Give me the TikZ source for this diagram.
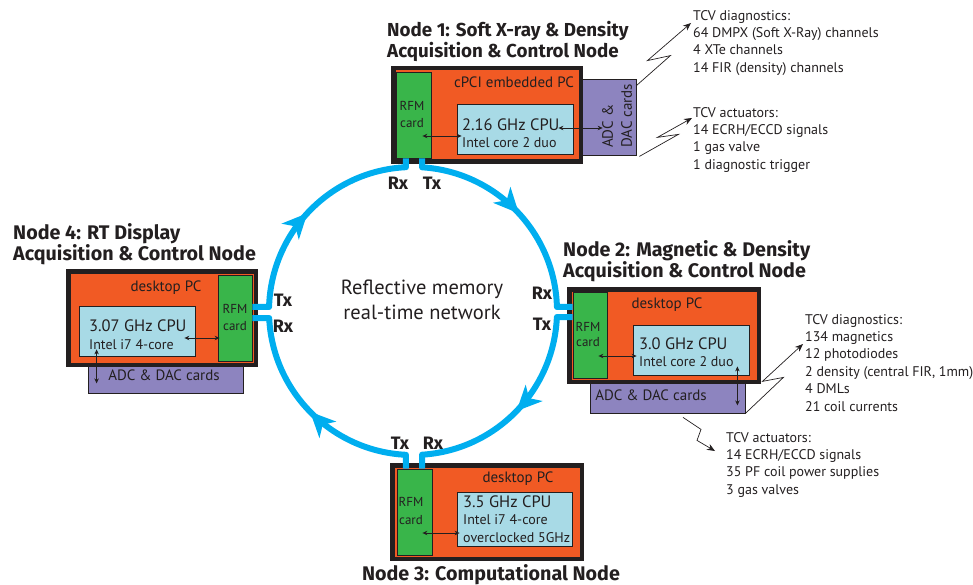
\documentclass[tikz,border=0pt]{standalone}
\usepackage{fontspec}
\setmainfont{PT Sans}
\newfontfamily\headfont{Fira Sans}
\usepackage{xcolor}
\usetikzlibrary{arrows.meta,calc,decorations.markings}

\definecolor{inkblack}{HTML}{231F20}
\definecolor{pcorange}{HTML}{F15A24}
\definecolor{rfmgreen}{HTML}{39B54A}
\definecolor{cpublue}{HTML}{A8DAE6}
\definecolor{adcpurple}{HTML}{8D84BF}
\definecolor{ringcyan}{HTML}{00AEEF}

\begin{document}
\begin{tikzpicture}[x=1pt, y=-1pt,
    pcbox/.style={rectangle, draw=inkblack, line width=4.5pt, fill=pcorange, inner sep=0pt},
    rfmbox/.style={rectangle, draw=inkblack, line width=0.8pt, fill=rfmgreen, inner sep=0pt},
    cpubox/.style={rectangle, draw=inkblack, line width=0.8pt, fill=cpublue, inner sep=0pt},
    adcbox/.style={rectangle, draw=inkblack, line width=0.8pt, fill=adcpurple, inner sep=0pt},
    boxtext/.style={inner sep=0pt, text=inkblack, font=\fontsize{15}{19}\selectfont},
    speedtext/.style={inner sep=0pt, anchor=base west, text=inkblack, font=\fontsize{16.5}{19}\selectfont},
    modeltext/.style={inner sep=0pt, anchor=base west, text=inkblack, font=\fontsize{14}{18}\selectfont},
    rfmtext/.style={inner sep=0pt, anchor=base, text=inkblack, font=\fontsize{13}{16.5}\selectfont, align=center},
    nodetitle/.style={inner sep=0pt, anchor=north west, align=left, text=inkblack, font=\fontsize{19.7}{21.5}\selectfont\headfont\bfseries},
    portlbl/.style={inner sep=0pt, text=inkblack, font=\fontsize{18}{20}\selectfont\headfont\bfseries},
    tcvlist/.style={inner sep=0pt, anchor=north west, align=left, text=inkblack, font=\fontsize{14}{17.4}\selectfont},
    link/.style={{Stealth[length=5pt,width=4.5pt]}-{Stealth[length=5pt,width=4.5pt]}, line width=0.7pt, draw=inkblack},
    bolt/.style={-{Stealth[length=8pt,width=6.5pt]}, line width=0.7pt, draw=inkblack},
    ringline/.style={draw=ringcyan, line width=6pt, line join=round,
        decoration={markings, mark=at position 0.5 with {\arrow{Stealth[length=25pt,width=23pt,inset=7pt]}}},
        postaction={decorate}}
]
\useasboundingbox (0,0) rectangle (973,585);

% I/O cards sit behind the PC frames
\node [adcbox, minimum width=58pt, minimum height=76pt] (adc1) at (607,117) {};
\node [adcbox, minimum width=155pt, minimum height=35pt] (adc2) at (667.5,395.5) {};
\node [adcbox, minimum width=155pt, minimum height=33pt] (adc4) at (165.5,376.5) {};

% PC frames
\node [pcbox, minimum width=187.5pt, minimum height=93.5pt] (pc1) at (487,115) {};
\node [pcbox, minimum width=189.5pt, minimum height=92.5pt] (pc2) at (664,335.5) {};
\node [pcbox, minimum width=189.5pt, minimum height=93.5pt] (pc3) at (487,512) {};
\node [pcbox, minimum width=187.5pt, minimum height=93.5pt] (pc4) at (162,318) {};

% RFM cards and CPUs
\node [rfmbox, minimum width=35pt, minimum height=86pt] (rfm1) at (413.5,115) {};
\node [rfmbox, minimum width=34pt, minimum height=86pt] (rfm2) at (590,335) {};
\node [rfmbox, minimum width=35pt, minimum height=86pt] (rfm3) at (414.5,512) {};
\node [rfmbox, minimum width=34pt, minimum height=86pt] (rfm4) at (235,318) {};
\node [cpubox, minimum width=116pt, minimum height=50pt] (cpu1) at (515,129) {};
\node [cpubox, minimum width=116pt, minimum height=50pt] (cpu2) at (691,350) {};
\node [cpubox, minimum width=115pt, minimum height=54pt] (cpu3) at (514.5,519) {};
\node [cpubox, minimum width=116pt, minimum height=50pt] (cpu4) at (137,331) {};

% texts inside the boxes
\node [boxtext, anchor=base] (pc1lbl) at (514,88) {cPCI embedded PC};
\node [boxtext, anchor=base] (pc2lbl) at (667,308) {desktop PC};
\node [boxtext, anchor=base] (pc3lbl) at (518,482) {desktop PC};
\node [boxtext, anchor=base] (pc4lbl) at (166,291) {desktop PC};

\node [speedtext] (spd1) at (462,130.5) {2.16 GHz CPU};
\node [modeltext] (mdl1) at (462,147.5) {Intel core 2 duo};
\node [speedtext] (spd2) at (639,349.5) {3.0 GHz CPU};
\node [modeltext] (mdl2) at (639,366.5) {Intel core 2 duo};
\node [speedtext] (spd3) at (463,507.5) {3.5 GHz CPU};
\node [modeltext] (mdl3a) at (463,524.3) {Intel i7 4-core};
\node [modeltext] (mdl3b) at (463,542.3) {overclocked 5GHz};
\node [speedtext] (spd4) at (89,331.5) {3.07 GHz CPU};
\node [modeltext] (mdl4) at (89,349.3) {Intel i7 4-core};

\node [rfmtext] (rfm1a) at (412,111) {RFM};
\node [rfmtext] (rfm1b) at (412,127.3) {card};
\node [rfmtext] (rfm2a) at (588,331.7) {RFM};
\node [rfmtext] (rfm2b) at (588,346.7) {card};
\node [rfmtext] (rfm3a) at (411,506.7) {RFM};
\node [rfmtext] (rfm3b) at (411,524) {card};
\node [rfmtext] (rfm4a) at (235,313.3) {RFM};
\node [rfmtext] (rfm4b) at (235,330) {card};

\node [boxtext, rotate=90, align=left, anchor=north west] (adc1lbl) at (602,148) {ADC \&\\DAC cards};
\node [boxtext, anchor=base] (adc2lbl) at (651,400) {ADC \& DAC cards};
\node [boxtext, anchor=base] (adc4lbl) at (164,380.7) {ADC \& DAC cards};

% data paths inside the nodes
\draw [link] ($(rfm1.east)+(-9,21)$) -- ($(cpu1.west)+(5,7)$);
\draw [link] ($(cpu1.east)+(-15,-1)$) -- ($(adc1.west)+(25,11)$);
\draw [link] ($(rfm2.east)+(-9,21)$) -- ($(cpu2.west)+(4,6)$);
\draw [link] ($(cpu2.south east)+(-12,-9)$) -- ($(adc2.south east)+(-8,-8)$);
\draw [link] ($(rfm3.east)+(-10,21)$) -- ($(cpu3.west)+(3,14)$);
\draw [link] ($(cpu4.east)+(-11,7)$) -- ($(rfm4.west)+(2,20)$);
\draw [link] ($(cpu4.south west)+(18,-7)$) -- ($(adc4.south west)+(9,-10)$);

% reflective memory ring
\coordinate (ring) at (413,311);
\coordinate (r1rx) at ($(ring)+(92.8:144pt)$);
\coordinate (r1tx) at ($(ring)+(86.4:144pt)$);
\coordinate (r2rx) at ($(ring)+(1.6:144pt)$);
\coordinate (r2tx) at ($(ring)+(-2.4:144pt)$);
\coordinate (r3rx) at ($(ring)+(273.6:144pt)$);
\coordinate (r3tx) at ($(ring)+(267.2:144pt)$);
\coordinate (r4rx) at ($(ring)+(182.8:144pt)$);
\coordinate (r4tx) at ($(ring)+(178.4:144pt)$);

\draw [ringline] (rfm1.south -| r1tx) -- (r1tx) arc[start angle=86.4, end angle=1.6, radius=144pt] -- (rfm2.west |- r2rx);
\draw [ringline] (rfm2.west |- r2tx) -- (r2tx) arc[start angle=-2.4, end angle=-86.4, radius=144pt] -- (rfm3.north -| r3rx);
\draw [ringline] (rfm3.north -| r3tx) -- (r3tx) arc[start angle=267.2, end angle=182.8, radius=144pt] -- (rfm4.east |- r4rx);
\draw [ringline] (rfm4.east |- r4tx) -- (r4tx) arc[start angle=178.4, end angle=92.8, radius=144pt] -- (rfm1.south -| r1rx);

\node [font=\fontsize{20.5}{25}\selectfont, align=center, text=inkblack, inner sep=0pt] (ringlbl) at (422,300) {Reflective memory\\real-time network};

% port labels
\node [portlbl] (rx1) at (398,183) {Rx};
\node [portlbl] (tx1) at (432,183) {Tx};
\node [portlbl] (rx2) at (542,293) {Rx};
\node [portlbl] (tx2) at (542,324) {Tx};
\node [portlbl] (tx3) at (400,443) {Tx};
\node [portlbl] (rx3) at (433,443) {Rx};
\node [portlbl] (tx4) at (283,300) {Tx};
\node [portlbl] (rx4) at (283,326) {Rx};

% node titles
\node [nodetitle, font=\fontsize{18.8}{21}\selectfont\headfont\bfseries] (title1) at (387,21) {Node 1: Soft X-ray \& Density\\Acquisition \& Control Node};
\node [nodetitle] (title2) at (563,240) {Node 2: Magnetic \& Density\\Acquisition \& Control Node};
\node [nodetitle, anchor=base] (title3) at (491,580) {Node 3: Computational Node};
\node [nodetitle] (title4) at (13,223) {Node 4: RT Display\\Acquisition \& Control Node};

% TCV signal lists
\node [tcvlist] (diag1) at (693,10) {TCV diagnostics:\\64 DMPX (Soft X-Ray) channels\\4 XTe channels\\14 FIR (density) channels};
\node [tcvlist] (act1) at (693,107) {TCV actuators:\\14 ECRH/ECCD signals\\1 gas valve\\1 diagnostic trigger};
\node [tcvlist] (diag2) at (805,314) {TCV diagnostics:\\134 magnetics\\12 photodiodes\\2 density (central FIR, 1mm)\\4 DMLs\\21 coil currents};
\node [tcvlist] (act2) at (726,432) {TCV actuators:\\14 ECRH/ECCD signals\\35 PF coil power supplies\\3 gas valves};

\draw [bolt] ($(adc1.north east)+(0,7)$) -- ++(34,-30) -- ++(-23,5) -- ($(diag1.north west)+(-2,13)$);
\draw [bolt] ($(adc1.south east)+(3,1)$) -- ++(39,-22) -- ++(-21,3) -- ($(act1.north west)+(-1,11)$);
\draw [bolt] (adc2.south east) -- ++(38,-36) -- ++(-21,4) -- ($(diag2.north west)+(-2,30)$);
\draw [bolt] ($(adc2.south)+(15.5,4)$) -- ++(18,12) -- ++(-4,11) -- ($(act2.north west)+(-11,19)$);
\end{tikzpicture}
\end{document}
